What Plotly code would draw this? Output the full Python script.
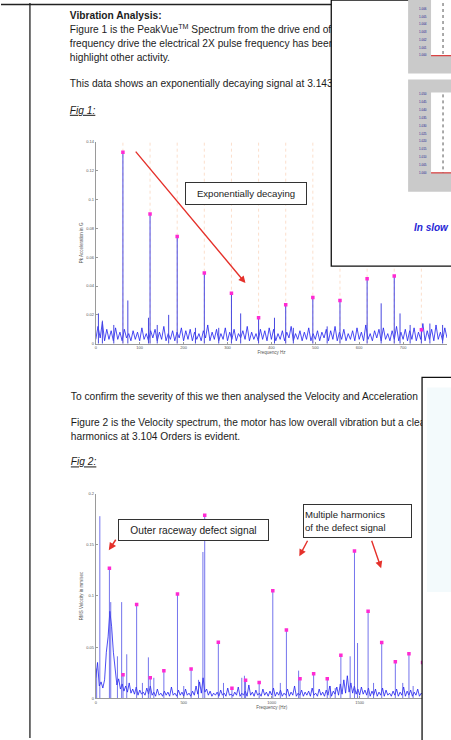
import plotly.graph_objects as go

W, H = 451, 740
FONT = "Liberation Sans, Arial, sans-serif"

# ---------------- Fig 1 data : PeakVue acceleration spectrum (G) ----------------
freq1 = list(range(0, 801, 5))
noise1 = [
    0.003, 0.012, 0.004, 0.015, 0.002, 0.010, 0.003, 0.009, 0.002, 0.011,
    0.003, 0.008, 0.002, 0.010, 0.004, 0.007, 0.002, 0.009, 0.003, 0.008,
    0.002, 0.011, 0.003, 0.007, 0.002, 0.009, 0.004, 0.010, 0.002, 0.008,
    0.003, 0.012, 0.002, 0.007, 0.003, 0.009, 0.002, 0.008, 0.004, 0.011,
    0.002, 0.009, 0.003, 0.010, 0.002, 0.008, 0.003, 0.007, 0.002, 0.009,
    0.004, 0.013, 0.002, 0.008, 0.003, 0.010, 0.002, 0.007, 0.003, 0.011,
    0.002, 0.008, 0.003, 0.010, 0.002, 0.007, 0.004, 0.009, 0.003, 0.012,
    0.002, 0.008, 0.003, 0.007, 0.002, 0.010, 0.003, 0.009, 0.002, 0.011,
    0.003, 0.010, 0.002, 0.007, 0.003, 0.009, 0.002, 0.008, 0.004, 0.012,
    0.002, 0.007, 0.003, 0.009, 0.002, 0.008, 0.003, 0.011, 0.002, 0.007,
    0.003, 0.009, 0.002, 0.008, 0.004, 0.010, 0.002, 0.009, 0.003, 0.012,
    0.002, 0.008, 0.003, 0.010, 0.002, 0.007, 0.003, 0.009, 0.002, 0.011,
    0.003, 0.008, 0.002, 0.013, 0.003, 0.007, 0.002, 0.009, 0.004, 0.010,
    0.002, 0.011, 0.003, 0.007, 0.002, 0.009, 0.003, 0.012, 0.002, 0.008,
    0.003, 0.010, 0.002, 0.009, 0.003, 0.011, 0.002, 0.008, 0.003, 0.014,
    0.002, 0.009, 0.003, 0.010, 0.002, 0.013, 0.003, 0.008, 0.002, 0.011,
    0.004,
]
harm1_freq = [61.8, 123.6, 185.4, 247.2, 309.0, 370.8, 432.6, 494.4, 556.2, 618.0, 679.8, 741.6]
harm1_amp = [0.133, 0.090, 0.0745, 0.049, 0.035, 0.018, 0.027, 0.032, 0.030, 0.045, 0.047, 0.0097]
peaks1_freq = [6, 15, 41, 73, 120, 140, 166, 227, 280, 330, 407, 450, 527, 650, 693, 716, 761, 790]
peaks1_amp = [0.021, 0.016, 0.013, 0.030, 0.018, 0.013, 0.020, 0.011, 0.011, 0.021, 0.018, 0.011,
              0.012, 0.028, 0.021, 0.013, 0.014, 0.013]
y1_ticks = [0, 0.02, 0.04, 0.06, 0.08, 0.1, 0.12, 0.14]
y1_labels = ["0", "0.02", "0.04", "0.06", "0.08", "0.1", "0.12", "0.14"]
x1_ticks = [0, 100, 200, 300, 400, 500, 600, 700, 800]

# ---------------- Fig 2 data : velocity spectrum (mm/sec) ----------------
freq2 = list(range(0, 2001, 10))
noise2 = [
    0.020, 0.035, 0.012, 0.016, 0.010, 0.018, 0.045, 0.060, 0.085, 0.070,
    0.045, 0.030, 0.013, 0.019, 0.009, 0.014, 0.007, 0.012, 0.006, 0.015,
    0.005, 0.009, 0.004, 0.011, 0.003, 0.008, 0.004, 0.006, 0.003, 0.010,
    0.004, 0.012, 0.003, 0.006, 0.002, 0.009, 0.003, 0.005, 0.002, 0.007,
    0.003, 0.006, 0.002, 0.011, 0.003, 0.005, 0.002, 0.008, 0.003, 0.006,
    0.002, 0.009, 0.003, 0.005, 0.002, 0.007, 0.003, 0.012, 0.004, 0.016,
    0.005, 0.020, 0.006, 0.009, 0.003, 0.007, 0.002, 0.005, 0.003, 0.006,
    0.002, 0.008, 0.003, 0.005, 0.002, 0.010, 0.003, 0.004, 0.002, 0.006,
    0.003, 0.011, 0.002, 0.005, 0.003, 0.007, 0.002, 0.013, 0.003, 0.006,
    0.002, 0.008, 0.003, 0.005, 0.002, 0.009, 0.003, 0.006, 0.002, 0.007,
    0.003, 0.010, 0.002, 0.006, 0.003, 0.008, 0.002, 0.005, 0.003, 0.009,
    0.002, 0.006, 0.003, 0.012, 0.002, 0.005, 0.003, 0.008, 0.002, 0.006,
    0.003, 0.007, 0.002, 0.010, 0.003, 0.005, 0.002, 0.009, 0.003, 0.006,
    0.002, 0.008, 0.003, 0.012, 0.002, 0.007, 0.004, 0.011, 0.003, 0.014,
    0.004, 0.018, 0.005, 0.022, 0.006, 0.015, 0.005, 0.012, 0.004, 0.009,
    0.003, 0.011, 0.004, 0.008, 0.003, 0.010, 0.002, 0.007, 0.003, 0.009,
    0.002, 0.006, 0.003, 0.010, 0.002, 0.008, 0.003, 0.005, 0.002, 0.007,
    0.003, 0.009, 0.002, 0.006, 0.003, 0.011, 0.002, 0.007, 0.003, 0.008,
    0.002, 0.006, 0.003, 0.009, 0.002, 0.005, 0.003, 0.008, 0.002, 0.006,
    0.003, 0.007, 0.002, 0.010, 0.003, 0.005, 0.002, 0.008, 0.003, 0.006,
    0.004,
]
harm2_freq = [77.4, 154.8, 232.2, 309.6, 387.0, 464.4, 541.8, 619.2, 696.6, 774.0, 851.4, 928.8,
              1006.2, 1083.6, 1161.0, 1238.4, 1315.8, 1393.2, 1470.6, 1548.0, 1625.4, 1702.8,
              1780.2, 1857.6]
harm2_amp = [0.127, 0.023, 0.0916, 0.020, 0.027, 0.102, 0.0285, 0.179, 0.0547, 0.0097, 0.0175,
             0.0155, 0.105, 0.0667, 0.019, 0.024, 0.019, 0.042, 0.144, 0.085, 0.0544, 0.0356,
             0.0434, 0.035]
peaks2_freq = [5, 23, 85, 123, 147, 176, 265, 299, 330, 500, 584, 609, 726, 830, 845, 1049, 1153,
               1333, 1361, 1446, 1488, 1579, 1745, 1804]
peaks2_amp = [0.029, 0.178, 0.094, 0.041, 0.094, 0.043, 0.015, 0.040, 0.020, 0.012, 0.018, 0.143,
              0.015, 0.020, 0.022, 0.015, 0.027, 0.012, 0.010, 0.041, 0.054, 0.015, 0.015, 0.012]
y2_ticks = [0, 0.05, 0.1, 0.15, 0.2]
y2_labels = ["0", "0.05", "0.1", "0.15", "0.2"]
x2_ticks = [0, 500, 1000, 1500, 2000]

# ---------------- page text ----------------
page_lines = [
    "<b>Vibration Analysis:</b>",
    "Figure 1 is the PeakVue<sup>TM</sup> Spectrum from the drive end of the motor",
    "frequency drive the electrical 2X pulse frequency has been",
    "highlight other activity.",
    "This data shows an exponentially decaying signal at 3.143 Orders",
    "<i><u>Fig 1:</u></i>",
    "To confirm the severity of this we then analysed the Velocity and Acceleration",
    "Figure 2 is the Velocity spectrum, the motor has low overall vibration but a clear",
    "harmonics at 3.104 Orders is evident.",
    "<i><u>Fig 2:</u></i>",
]
page_x = [69, 69, 69, 69, 69, 69, 70, 70, 70, 70]
page_y = [14, 27.5, 41.5, 56, 82, 109, 397, 423, 437, 463]

panel1_ticks = ["1.006", "1.005", "1.004", "1.003", "1.002", "1.001", "1.000"]
panel2_ticks = ["1.050", "1.045", "1.040", "1.035", "1.030", "1.025", "1.020", "1.015",
                "1.010", "1.005", "1.000"]


def px(x):
    return x / W


def py(y):
    return 1 - y / H


def stems(fr, amp):
    xs, ys = [], []
    for f, a in zip(fr, amp):
        xs += [f, f, None]
        ys += [0, a, None]
    return xs, ys


BLUE = "#1e1ef0"
STEM = "#4646e0"
MAG = "#ff2ad2"
TXT = 10.2

fig = go.Figure()

# fig 1 traces
cx, cy = stems(harm1_freq, [0.14] * len(harm1_freq))
fig.add_trace(go.Scatter(x=cx, y=cy, mode="lines", xaxis="x", yaxis="y",
                         line=dict(color="rgba(245,175,130,0.4)", width=1, dash="dot")))
fig.add_trace(go.Scatter(x=freq1, y=noise1, mode="lines", xaxis="x", yaxis="y",
                         line=dict(color=BLUE, width=0.8)))
sx, sy = stems(peaks1_freq + harm1_freq, peaks1_amp + harm1_amp)
fig.add_trace(go.Scatter(x=sx, y=sy, mode="lines", xaxis="x", yaxis="y",
                         line=dict(color=STEM, width=1)))
fig.add_trace(go.Scatter(x=harm1_freq, y=harm1_amp, mode="markers", xaxis="x", yaxis="y",
                         marker=dict(color=MAG, size=3.5, symbol="square")))

# fig 2 traces
fig.add_trace(go.Scatter(x=freq2, y=noise2, mode="lines", xaxis="x2", yaxis="y2",
                         line=dict(color=BLUE, width=0.8)))
sx, sy = stems(peaks2_freq + harm2_freq, peaks2_amp + harm2_amp)
fig.add_trace(go.Scatter(x=sx, y=sy, mode="lines", xaxis="x2", yaxis="y2",
                         line=dict(color="rgba(70,70,230,0.75)", width=1)))
fig.add_trace(go.Scatter(x=harm2_freq, y=harm2_amp, mode="markers", xaxis="x2", yaxis="y2",
                         marker=dict(color=MAG, size=3.5, symbol="square")))

# page text (under the overlapping white boxes)
fig.add_trace(go.Scatter(x=page_x, y=page_y, text=page_lines, mode="text", xaxis="x3", yaxis="y3",
                         textposition="middle right",
                         textfont=dict(family=FONT, size=TXT, color="#1c1c1c")))

axis_common = dict(showline=True, linecolor="#9a9a9a", linewidth=1, showgrid=False,
                   zeroline=False, ticks="inside", ticklen=2, tickcolor="#9a9a9a",
                   tickfont=dict(family=FONT, size=4, color="#555"))

fig.update_layout(
    width=W, height=H,
    margin=dict(l=0, r=0, t=0, b=0),
    paper_bgcolor="white",
    plot_bgcolor="rgba(0,0,0,0)",
    showlegend=False,
    xaxis=dict(domain=[px(95), px(447)], range=[0, 800], anchor="y", tickvals=x1_ticks,
               title=dict(text="Frequency Hz", font=dict(family=FONT, size=4.5, color="#555"),
                          standoff=1), **axis_common),
    yaxis=dict(domain=[py(343), py(140)], range=[0, 0.14], anchor="x", tickvals=y1_ticks,
               ticktext=y1_labels,
               title=dict(text="Pk Acceleration in G", font=dict(family=FONT, size=4.5, color="#555"),
                          standoff=2), **axis_common),
    xaxis2=dict(domain=[px(95), px(447.6)], range=[0, 2000], anchor="y2", tickvals=x2_ticks,
                title=dict(text="Frequency (Hz)", font=dict(family=FONT, size=4.5, color="#555"),
                           standoff=1), **axis_common),
    yaxis2=dict(domain=[py(700), py(494)], range=[0, 0.2], anchor="x2", tickvals=y2_ticks,
                ticktext=y2_labels,
                title=dict(text="RMS Velocity in mm/sec", font=dict(family=FONT, size=4.5, color="#555"),
                           standoff=2), **axis_common),
    xaxis3=dict(domain=[0, 1], range=[0, W], anchor="y3", visible=False),
    yaxis3=dict(domain=[0, 1], range=[H, 0], anchor="x3", visible=False),
)

shapes = [
    dict(type="line", x0=px(0), x1=px(W), y0=py(1.5), y1=py(1.5), line=dict(color="#222", width=1.3)),
    dict(type="line", x0=px(29), x1=px(29), y0=py(0), y1=py(H), line=dict(color="#222", width=1.3)),
    # overlapping box top right
    dict(type="rect", x0=px(331), x1=px(W + 5), y0=py(-3), y1=py(265), fillcolor="white",
         line=dict(color="#111", width=1.3)),
    dict(type="rect", x0=px(408), x1=px(W + 5), y0=py(-3), y1=py(71), fillcolor="#cacaca", line_width=0),
    dict(type="rect", x0=px(431), x1=px(W + 5), y0=py(-3), y1=py(53), fillcolor="white", line_width=0),
    dict(type="line", x0=px(431), x1=px(W), y0=py(53), y1=py(53), line=dict(color="#d83a3a", width=1.2)),
    dict(type="line", x0=px(443), x1=px(443), y0=py(0), y1=py(53), line=dict(color="#555", width=1, dash="dot")),
    dict(type="rect", x0=px(408), x1=px(W + 5), y0=py(77), y1=py(190), fillcolor="#cacaca", line_width=0),
    dict(type="rect", x0=px(431), x1=px(W + 5), y0=py(90), y1=py(171), fillcolor="white", line_width=0),
    dict(type="line", x0=px(431), x1=px(W), y0=py(171), y1=py(171), line=dict(color="#d83a3a", width=1.2)),
    dict(type="line", x0=px(443), x1=px(443), y0=py(92), y1=py(171), line=dict(color="#555", width=1, dash="dot")),
    # overlapping box bottom right
    dict(type="rect", x0=px(422), x1=px(W + 5), y0=py(377), y1=py(H + 5), fillcolor="white",
         line=dict(color="#111", width=1.3)),
    dict(type="rect", x0=px(427), x1=px(W + 5), y0=py(387), y1=py(593), fillcolor="#f3fafc", line_width=0),
]
for s in shapes:
    s.update(xref="paper", yref="paper", layer="above")
fig.update_layout(shapes=shapes)

ann = []
ann.append(dict(x=px(246), y=py(191.5), text="Exponentially decaying", showarrow=False,
                font=dict(family=FONT, size=9.6, color="#1c1c1c"), bgcolor="white",
                bordercolor="#333", borderwidth=1, width=118, height=19))
ann.append(dict(x=px(245), y=py(282), ax=-111, ay=-133, text="", showarrow=True, arrowhead=2,
                arrowsize=1, arrowwidth=1.4, arrowcolor="#e5312b"))
ann.append(dict(x=px(192.5), y=py(531), text="Outer raceway defect signal", showarrow=False,
                font=dict(family=FONT, size=10.2, color="#1c1c1c"), bgcolor="white",
                bordercolor="#333", borderwidth=1, width=147, height=18))
ann.append(dict(x=px(108), y=py(551), ax=8, ay=-12, text="", showarrow=True, arrowhead=2,
                arrowsize=1, arrowwidth=1.5, arrowcolor="#e5312b"))
ann.append(dict(x=px(357), y=py(522), text="Multiple harmonics<br>of the defect signal",
                showarrow=False, align="left", font=dict(family=FONT, size=9.6, color="#1c1c1c"),
                bgcolor="white", bordercolor="#333", borderwidth=1, width=105, height=30))
ann.append(dict(x=px(299), y=py(557), ax=9, ay=-17, text="", showarrow=True, arrowhead=2,
                arrowsize=1, arrowwidth=1.4, arrowcolor="#e5312b"))
ann.append(dict(x=px(381), y=py(569), ax=-10, ay=-29, text="", showarrow=True, arrowhead=2,
                arrowsize=1, arrowwidth=1.4, arrowcolor="#e5312b"))
ann.append(dict(x=px(412), y=py(226), text="<b><i>In slow</i></b>", showarrow=False,
                xanchor="left", font=dict(family=FONT, size=10, color="#2626d6")))
for i, t in enumerate(panel1_ticks):
    ann.append(dict(x=px(429), y=py(6 + i * 7.8), text=t, showarrow=False, xanchor="right",
                    font=dict(family=FONT, size=3, color="#1a1a90")))
for i, t in enumerate(panel2_ticks):
    ann.append(dict(x=px(429), y=py(92 + i * 7.9), text=t, showarrow=False, xanchor="right",
                    font=dict(family=FONT, size=3, color="#1a1a90")))
for a in ann:
    a.update(xref="paper", yref="paper")
    a.setdefault("xanchor", "center")
    a.setdefault("yanchor", "middle")
fig.update_layout(annotations=ann)

# the page is photographed edge to edge, so drop the default body margin
fig.write_html("out.html", config={"displayModeBar": False},
               post_script="document.body.style.margin='0';")
